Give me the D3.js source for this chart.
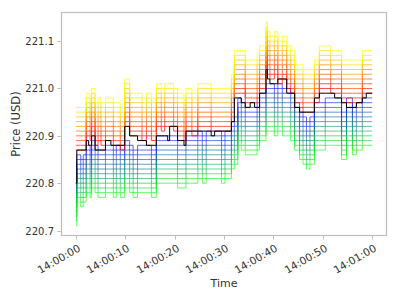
<!DOCTYPE html>
<html><head><meta charset="utf-8">
<script src="https://cdn.jsdelivr.net/npm/d3@7"></script>
<style>body{margin:0;background:#fff}svg{display:block}</style>
</head><body><svg id="c" width="400" height="300"></svg>
<script>
// event times (seconds after 14:00:00)
const times = [0.0,0.2,1.0,1.5,2.1,2.6,2.9,3.2,3.9,4.5,5.1,6.0,7.1,7.6,8.2,9.0,9.9,10.9,11.6,12.5,13.4,14.3,15.3,16.3,17.3,18.0,18.6,19.0,19.8,20.6,21.9,22.3,23.5,24.7,25.6,26.4,27.4,28.1,29.5,30.2,31.5,32.1,32.8,33.5,34.3,35.3,36.2,36.7,37.2,38.5,38.8,39.3,40.2,40.9,41.8,42.7,43.5,44.3,45.3,46.0,46.7,47.4,48.3,49.3,50.5,51.6,52.4,53.8,54.8,56.0,56.8,58.0,58.8,60.0];
// black line: last price
const lastPrice = [220.80,220.87,220.87,220.87,220.89,220.88,220.88,220.90,220.87,220.87,220.87,220.89,220.88,220.88,220.88,220.88,220.92,220.90,220.90,220.89,220.89,220.88,220.88,220.90,220.90,220.90,220.89,220.92,220.92,220.89,220.88,220.91,220.91,220.91,220.91,220.91,220.90,220.91,220.91,220.91,220.93,220.98,220.98,220.97,220.96,220.97,220.96,220.96,220.99,221.04,221.02,221.01,221.01,221.02,221.02,220.99,220.99,220.96,220.95,220.95,220.95,220.95,220.98,220.99,220.99,220.99,220.98,220.97,220.96,220.96,220.97,220.98,220.99,220.99];
// best ask / best bid of the book
const bestAsk = [220.87,220.87,220.87,220.87,220.90,220.90,220.89,220.91,220.88,220.89,220.88,220.89,220.89,220.88,220.88,220.87,220.93,220.90,220.90,220.90,220.89,220.90,220.89,220.92,220.91,220.92,220.92,220.92,220.91,220.90,220.89,220.91,220.90,220.92,220.92,220.92,220.91,220.91,220.91,220.91,220.94,220.99,220.99,220.99,220.97,220.97,220.97,220.98,221.00,221.05,221.03,221.02,221.03,221.01,221.02,221.00,220.99,220.96,220.96,220.95,220.95,220.95,220.97,221.00,221.00,220.99,220.99,220.97,220.97,220.97,220.97,220.99,220.99,220.99];
const bestBid = [220.81,220.86,220.85,220.86,220.88,220.88,220.87,220.89,220.88,220.87,220.87,220.88,220.88,220.87,220.88,220.87,220.89,220.88,220.87,220.88,220.88,220.88,220.87,220.90,220.90,220.90,220.90,220.90,220.90,220.89,220.89,220.90,220.90,220.91,220.90,220.91,220.91,220.91,220.90,220.91,220.93,220.94,220.98,220.97,220.96,220.96,220.96,220.97,220.99,221.01,221.01,221.01,221.00,221.01,221.00,221.00,220.99,220.97,220.95,220.94,220.93,220.94,220.97,220.97,220.98,220.98,220.98,220.95,220.98,220.96,220.97,220.98,220.98,220.98];
const askLevelOffsets = [0,0.01,0.02,0.03,0.04,0.05,0.06,0.07,0.08,0.09];
const bidLevelOffsets = [0,0.01,0.02,0.03,0.04,0.05,0.06,0.07,0.08,0.09,0.10];
const yTicks = [220.7,220.8,220.9,221.0,221.1];
const xTickSeconds = [0,10,20,30,40,50,60];

const svg = d3.select("#c");
const L=61,R=387,T=12,B=236;
const base = new Date(2024,0,1,14,0,0).getTime();
const toDate = s => new Date(base + s*1000);
const x = d3.scaleTime().domain([toDate(-3), toDate(63)]).range([L,R]);
const y = d3.scaleLinear().domain([220.6885,221.1615]).range([B,T]);

svg.append("clipPath").attr("id","cp").append("rect").attr("x",L).attr("y",T).attr("width",R-L).attr("height",B-T);
const plot = svg.append("g").attr("clip-path","url(#cp)");

const line = d3.line().curve(d3.curveStepAfter).x(d=>x(toDate(d[0]))).y(d=>y(d[1]));

const bidCol = d3.interpolateRgb("#0000ff","#00ff00");
bidLevelOffsets.forEach((off,k)=>{
  const pts = times.map((t,i)=>[t, bestBid[i]-off]);
  plot.append("path").attr("d",line(pts)).attr("fill","none")
    .attr("stroke",bidCol(k/(bidLevelOffsets.length-1))).attr("stroke-opacity",0.62).attr("stroke-width",1);
});
const askCol = d3.interpolateRgb("#ff0000","#ffff00");
askLevelOffsets.forEach((off,k)=>{
  const pts = times.map((t,i)=>[t, bestAsk[i]+off]);
  plot.append("path").attr("d",line(pts)).attr("fill","none")
    .attr("stroke",askCol(k/(askLevelOffsets.length-1))).attr("stroke-opacity",0.72).attr("stroke-width",1);
});
plot.append("path").attr("d",line(times.map((t,i)=>[t,lastPrice[i]]))).attr("fill","none")
  .attr("stroke","#000").attr("stroke-width",1);

// frame
svg.append("rect").attr("x",L+0.5).attr("y",T+0.5).attr("width",R-L-1).attr("height",B-T-1)
  .attr("fill","none").attr("stroke","#bdbdbd").attr("stroke-width",1.2);

const tc="#bdbdbd", fc="#333";
yTicks.forEach(v=>{
  const yy=Math.round(y(v))+0.5;
  svg.append("line").attr("x1",L-3.5).attr("x2",L).attr("y1",yy).attr("y2",yy).attr("stroke",tc);
  svg.append("text").attr("x",L-7).attr("y",yy).attr("dy","0.35em").attr("text-anchor","end")
    .attr("font-family","DejaVu Sans").attr("font-size",10).attr("fill",fc).text(d3.format(".1f")(v));
});
const fmt = d3.timeFormat("%H:%M:%S");
xTickSeconds.forEach(s=>{
  const xx=Math.round(x(toDate(s)))+0.5;
  svg.append("line").attr("x1",xx).attr("x2",xx).attr("y1",B).attr("y2",B+3.5).attr("stroke",tc);
  svg.append("text").attr("transform",`translate(${xx+1},${B+8}) rotate(-30)`).attr("text-anchor","end")
    .attr("dy","0.7em").attr("font-family","DejaVu Sans").attr("font-size",10.5).attr("fill",fc).text(fmt(toDate(s)));
});
svg.append("text").attr("x",(L+R)/2).attr("y",287).attr("text-anchor","middle")
  .attr("font-family","DejaVu Sans").attr("font-size",11).attr("fill",fc).text("Time");
svg.append("text").attr("transform",`translate(20,${(T+B)/2}) rotate(-90)`).attr("text-anchor","middle")
  .attr("font-family","DejaVu Sans").attr("font-size",11.5).attr("fill",fc).text("Price (USD)");
</script></body></html>
